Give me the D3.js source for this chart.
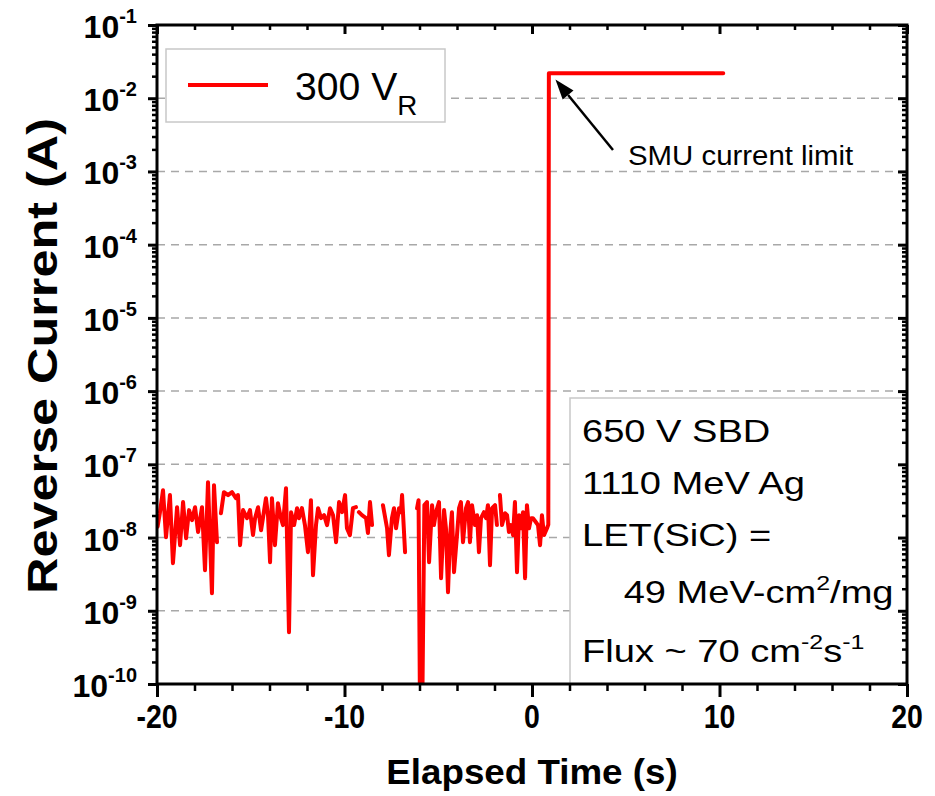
<!DOCTYPE html>
<html><head><meta charset="utf-8">
<script src="https://cdn.jsdelivr.net/npm/d3@7"></script>
<style>body{margin:0;background:#fff} text{font-family:"Liberation Sans",Arial,sans-serif}</style>
</head><body>
<svg id="c" width="935" height="796"></svg>
<script>
// ---- data ----
const timeS = [
-19.97,-19.85,-19.68,-19.52,-19.31,-19.15,-18.93,-18.77,-18.61,-18.45,
-18.29,-18.13,-17.97,-17.81,-17.60,-17.44,-17.28,-17.07,-16.96,-16.80,
-16.70,-16.59,-16.43,-16.21,-16.00,-15.79,-15.73,-15.68,-15.57,-15.41,
-15.20,-15.04,-14.88,-14.77,-14.61,-14.45,-14.35,-14.19,-14.08,-13.97,
-13.87,-13.71,-13.55,-13.39,-13.28,-13.12,-12.96,-12.85,-12.69,-12.53,
-12.43,-12.27,-12.11,-11.95,-11.79,-11.68,-11.52,-11.41,-11.25,-11.09,
-10.93,-10.77,-10.61,-10.45,-10.29,-10.13,-9.97,-9.87,-9.71,-9.55,
-9.39,-9.31,-9.23,-9.07,-8.85,-8.75,-8.64,-8.53,-8.30,-7.95,
-7.73,-7.63,-7.47,-7.36,-7.25,-7.09,-6.99,-6.93,-6.77,-6.50,
-6.13,-6.05,-5.97,-5.86,-5.74,-5.60,-5.49,-5.33,-5.23,-5.12,
-4.96,-4.85,-4.69,-4.59,-4.48,-4.37,-4.27,-4.16,-4.00,-3.89,
-3.79,-3.68,-3.52,-3.41,-3.31,-3.20,-3.04,-2.93,-2.83,-2.72,
-2.56,-2.45,-2.35,-2.24,-2.13,-1.97,-1.87,-1.78,-1.71,-1.60,
-1.44,-1.33,-1.23,-1.12,-1.01,-0.91,-0.80,-0.69,-0.59,-0.48,
-0.37,-0.27,-0.16,-0.05,0.05,0.21,0.32,0.43,0.53,0.64,
0.80,0.87,0.90,10.20
];
const currentA = [
1.41e-8,2.15e-8,4.44e-8,1.01e-8,3.80e-8,4.47e-9,2.60e-8,7.87e-9,3.05e-8,9.8e-9,
2.37e-8,1.73e-8,2.60e-8,1.19e-8,2.60e-8,3.59e-9,5.71e-8,1.74e-9,5.2e-8,8.65e-9,
null,2.15e-8,4.17e-8,3.80e-8,4.17e-8,3.45e-8,null,3.80e-8,7.87e-9,2.37e-8,
1.84e-8,2.37e-8,1.08e-8,1.84e-8,2.60e-8,1.26e-8,1.84e-8,3.45e-8,2.02e-8,4.61e-9,
3.45e-8,7.87e-9,2.95e-8,1.84e-8,1.48e-8,4.73e-8,5.1e-10,2.22e-8,1.48e-8,2.52e-8,
1.84e-8,2.52e-8,1.48e-8,6.32e-9,3.24e-8,3.06e-9,1.48e-8,2.52e-8,1.84e-8,2.02e-8,
1.48e-8,2.52e-8,2.02e-8,8.65e-9,3.05e-8,2.22e-8,3.80e-8,1.34e-8,1.08e-8,2.52e-8,
2.60e-8,null,2.22e-8,2.02e-8,1.84e-8,1.15e-8,3.05e-8,1.48e-8,null,2.77e-8,
1.34e-8,5.75e-9,1.84e-8,2.52e-8,1.34e-8,2.52e-8,2.22e-8,3.80e-8,6.32e-9,null,
2.52e-8,3.24e-8,3e-11,3e-11,2.77e-8,3.05e-8,4.61e-9,2.77e-8,1.48e-8,2.22e-8,
3.05e-8,2.79e-9,2.37e-8,1.34e-8,1.79e-9,1.08e-8,2.22e-8,3.37e-9,1.08e-8,2.52e-8,
3.05e-8,8.65e-9,2.52e-8,3.05e-8,8.65e-9,2.77e-8,1.48e-8,2.02e-8,6.32e-9,1.84e-8,
2.22e-8,1.84e-8,2.77e-8,4.2e-9,2.52e-8,2.77e-8,1.48e-8,null,3.80e-8,1.48e-8,
2.15e-8,2.02e-8,1.19e-8,1.48e-8,1.08e-8,3.05e-8,3.37e-9,2.02e-8,1.34e-8,2.22e-8,
2.79e-9,2.77e-8,1.34e-8,1.84e-8,1.84e-8,1.62e-8,1.48e-8,7.87e-9,2.02e-8,1.08e-8,
1.34e-8,1.5e-8,2.2e-2,2.2e-2
];
const xDomain = [-20, 20];
const xMajorTicks = [-20, -10, 0, 10, 20];
const xMinorTicks = [-18,-16,-14,-12,-8,-6,-4,-2,2,4,6,8,12,14,16,18];
const yExponents = [-1,-2,-3,-4,-5,-6,-7,-8,-9,-10];
const gridExponents = [-2,-3,-4,-5,-6,-7,-8,-9];
const legendMain = "300 V", legendSub = "R";
const xTitle = "Elapsed Time (s)", yTitle = "Reverse Current (A)";
const arrowLabel = "SMU current limit";
const arrowTip = [1.25, 0.018], arrowTail = [4.32, 1.96e-3];
const infoLines = ["650 V SBD", "1110 MeV Ag", "LET(SiC) ="];

if (timeS.length !== currentA.length) throw new Error("length mismatch " + timeS.length + " " + currentA.length);

const L = 157, R = 907, T = 25, B = 684;
const svg = d3.select("#c");
const x = d3.scaleLinear(xDomain, [L, R]);
const y = d3.scaleLog([1e-10, 1e-1], [B, T]);

const majorY = yExponents.map(e => Math.pow(10, e));
const minorY = [];
for (let e = -10; e < -1; e++) for (let m = 2; m <= 9; m++) minorY.push(m * Math.pow(10, e));

// grid
svg.append("g").selectAll("line").data(gridExponents).join("line")
  .attr("x1", L).attr("x2", R)
  .attr("y1", d => y(Math.pow(10, d))).attr("y2", d => y(Math.pow(10, d)))
  .attr("stroke", "#a8a8a8").attr("stroke-width", 1.5).attr("stroke-dasharray", "8,6");

// clip
svg.append("clipPath").attr("id", "clip").append("rect")
  .attr("x", L).attr("y", T).attr("width", R - L).attr("height", B - T);

const pts = timeS.map((t, i) => [t, currentA[i]]);
const line = d3.line().defined(d => d[1] != null).x(d => x(d[0])).y(d => y(d[1]));
svg.append("path").attr("clip-path", "url(#clip)").attr("d", line(pts))
  .attr("fill", "none").attr("stroke", "#ff0000").attr("stroke-width", 4)
  .attr("stroke-linejoin", "round").attr("stroke-linecap", "round");

// info box
svg.append("rect").attr("x", 570).attr("y", 398).attr("width", R - 570).attr("height", B - 398)
  .attr("fill", "#fff").attr("stroke", "#c8c8c8").attr("stroke-width", 1.5);
const info = svg.append("g").attr("transform", "translate(582,0) scale(1.19,1)");
const infoBase = [442, 494, 546];
infoLines.forEach((s, i) => info.append("text").attr("x", 0).attr("y", infoBase[i]).attr("font-size", 32).text(s));
{
  const t = info.append("text").attr("x", 35).attr("y", 603).attr("font-size", 32);
  t.append("tspan").text("49 MeV-cm");
  t.append("tspan").attr("font-size", 21).attr("dy", -13).text("2");
  t.append("tspan").attr("dy", 13).text("/mg");
  const f = info.append("text").attr("x", 0).attr("y", 662).attr("font-size", 32);
  f.append("tspan").text("Flux ~ 70 cm");
  f.append("tspan").attr("font-size", 21).attr("dy", -13).text("-2");
  f.append("tspan").attr("dy", 13).text("s");
  f.append("tspan").attr("font-size", 21).attr("dy", -13).text("-1");
}

// legend
svg.append("rect").attr("x", 166).attr("y", 49).attr("width", 279).attr("height", 73)
  .attr("fill", "#fff").attr("stroke", "#c8c8c8").attr("stroke-width", 1.5);
svg.append("line").attr("x1", 188).attr("x2", 268).attr("y1", 85).attr("y2", 85)
  .attr("stroke", "#ff0000").attr("stroke-width", 4);
{
  const lt = svg.append("g").attr("transform", "translate(295,100) scale(1.03,1)")
    .append("text").attr("x", 0).attr("y", 0).attr("font-size", 38);
  lt.append("tspan").text(legendMain);
  lt.append("tspan").attr("font-size", 27).attr("dy", 15).text(legendSub);
}

// arrow annotation
{
  const [tx, ty] = [x(arrowTip[0]), y(arrowTip[1])];
  const [sx, sy] = [x(arrowTail[0]), y(arrowTail[1])];
  const dx = sx - tx, dy = sy - ty, len = Math.hypot(dx, dy), ux = dx / len, uy = dy / len;
  const hl = 20, hw = 7;
  const bx = tx + ux * hl, by = ty + uy * hl;
  svg.append("line").attr("x1", sx).attr("y1", sy).attr("x2", bx).attr("y2", by)
    .attr("stroke", "#000").attr("stroke-width", 2.5);
  svg.append("path").attr("d", `M${tx},${ty}L${bx - uy * hw},${by + ux * hw}L${bx + uy * hw},${by - ux * hw}Z`)
    .attr("fill", "#000");
  svg.append("g").attr("transform", "translate(628,165) scale(1.05,1)")
    .append("text").attr("font-size", 28).text(arrowLabel);
}

// axes
function styleAxis(g, w) {
  g.selectAll(".tick line").attr("stroke", "#000").attr("stroke-width", w);
  g.select(".domain").remove();
}
function addAxis(gen, tf, vals, size, w) {
  const g = svg.append("g").attr("transform", tf);
  g.call(gen.tickValues(vals).tickSize(size).tickSizeOuter(0).tickFormat(""));
  styleAxis(g, w);
}
addAxis(d3.axisLeft(y), `translate(${L},0)`, majorY, 9, 3);
addAxis(d3.axisLeft(y), `translate(${L},0)`, minorY, 5, 2.5);
addAxis(d3.axisLeft(y), `translate(${R},0)`, majorY, 9, 3);   // inward on the right
addAxis(d3.axisLeft(y), `translate(${R},0)`, minorY, 5, 2.5);
addAxis(d3.axisBottom(x), `translate(0,${B})`, xMajorTicks, 13, 3);
addAxis(d3.axisBottom(x), `translate(0,${B})`, xMinorTicks, 7, 2.5);
addAxis(d3.axisBottom(x), `translate(0,${T})`, xMajorTicks, 9, 3); // inward on top
addAxis(d3.axisBottom(x), `translate(0,${T})`, xMinorTicks, 5, 2.5);

// frame
svg.append("rect").attr("x", L).attr("y", T).attr("width", R - L).attr("height", B - T)
  .attr("fill", "none").attr("stroke", "#000").attr("stroke-width", 3);

// tick labels
xMajorTicks.forEach(v => svg.append("g").attr("transform", `translate(${x(v)},728) scale(0.95,1.08)`)
  .append("text").attr("text-anchor", "middle").attr("font-size", 30).attr("font-weight", "bold").text(String(v)));
yExponents.forEach(e => {
  const t = svg.append("g").attr("transform", `translate(137,${y(Math.pow(10, e)) + 13})`)
    .append("text").attr("text-anchor", "end").attr("font-size", 32).attr("font-weight", "bold");
  t.append("tspan").text("10");
  t.append("tspan").attr("font-size", 20).attr("dy", -15).text(String(e));
});

// titles
svg.append("g").attr("transform", `translate(${(L + R) / 2},784) scale(1.05,1)`)
  .append("text").attr("text-anchor", "middle")
  .attr("font-size", 35).attr("font-weight", "bold").text(xTitle);
svg.append("g").attr("transform", `translate(57,356) rotate(-90) scale(1.2,1)`)
  .append("text").attr("text-anchor", "middle")
  .attr("font-size", 42).attr("font-weight", "bold").text(yTitle);
</script>
</body></html>
